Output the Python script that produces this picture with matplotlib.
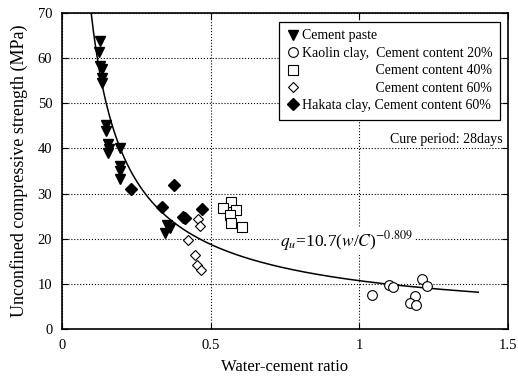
import matplotlib
matplotlib.use("Agg")
import matplotlib.pyplot as plt
import numpy as np

plt.rcParams['font.family'] = ['Liberation Serif', 'DejaVu Serif']
plt.rcParams['mathtext.fontset'] = 'stix'

# cement paste
paste_wc = [0.128, 0.125, 0.128, 0.136, 0.136, 0.136, 0.147, 0.147, 0.156, 0.159,
            0.156, 0.195, 0.195, 0.195, 0.195, 0.352, 0.346, 0.363]
paste_qu = [63.8, 61.3, 58.3, 57.5, 55.5, 54.6, 45.3, 43.8, 40.9, 39.8,
            39.0, 40.0, 36.1, 35.0, 33.3, 23.1, 21.3, 22.4]

# kaolin clay, cement content 20 / 40 / 60 %
k20_wc = [1.044, 1.099, 1.114, 1.211, 1.228, 1.187, 1.170, 1.189]
k20_qu = [7.6, 9.8, 9.4, 11.1, 9.6, 7.2, 5.7, 5.3]
k40_wc = [0.567, 0.542, 0.585, 0.565, 0.570, 0.607]
k40_qu = [28.2, 26.8, 26.3, 25.3, 23.5, 22.6]
k60_wc = [0.458, 0.464, 0.425, 0.447, 0.453, 0.466]
k60_qu = [24.4, 22.9, 19.8, 16.4, 14.1, 13.1]

# hakata clay, cement content 60 %
hak_wc = [0.232, 0.376, 0.335, 0.408, 0.412, 0.470]
hak_qu = [31.0, 32.0, 27.0, 24.9, 24.5, 26.6]

# fitted curve qu = a (w/C)^b
fit_a = 10.7
fit_b = -0.809
fit_range = (0.097, 1.40)

pad = ' ' * 21  # lines up "Cement content" under the kaolin row

fig = plt.figure(figsize=(5.18, 3.76), dpi=100)
ax = fig.add_axes([0.1197, 0.125, 0.861, 0.8404])

wc = np.linspace(fit_range[0], fit_range[1], 300)
ax.plot(wc, fit_a * wc ** fit_b, color='black', lw=1.1, zorder=2)

ax.plot(paste_wc, paste_qu, 'v', color='black', ms=7, ls='none', label='Cement paste', zorder=3)
ax.plot(k20_wc, k20_qu, 'o', mfc='white', mec='black', mew=0.8, ms=7, ls='none',
        label='Kaolin clay,  Cement content 20%', zorder=3)
ax.plot(k40_wc, k40_qu, 's', mfc='white', mec='black', mew=0.8, ms=7.5, ls='none',
        label=pad + 'Cement content 40%', zorder=3)
ax.plot(k60_wc, k60_qu, 'D', mfc='white', mec='black', mew=0.8, ms=4.8, ls='none',
        label=pad + 'Cement content 60%', zorder=3)
ax.plot(hak_wc, hak_qu, 'D', color='black', ms=5.8, ls='none',
        label='Hakata clay, Cement content 60%', zorder=3)

ax.set_xlim(0, 1.5)
ax.set_ylim(0, 70)
ax.set_xticks([0, 0.5, 1, 1.5])
ax.set_xticklabels(['0', '0.5', '1', '1.5'])
ax.set_yticks(range(0, 71, 10))
ax.grid(True, color='black', ls=':', lw=0.8)
ax.tick_params(direction='in', top=True, right=True, labelsize=10.5, length=4, pad=7)
for s in ax.spines.values():
    s.set_linewidth(1.2)

ax.set_xlabel('Water-cement ratio', fontsize=12, labelpad=5)
ax.set_ylabel('Unconfined compressive strength (MPa)', fontsize=13, labelpad=7)

leg = ax.legend(loc='upper right', bbox_to_anchor=(0.982, 0.972), fontsize=10,
                frameon=True, fancybox=False, edgecolor='black', framealpha=1,
                handlelength=0.8, handletextpad=0.25, borderpad=0.55,
                labelspacing=0.32, borderaxespad=0)
leg.get_frame().set_linewidth(0.9)

ax.text(1.483, 42.0, 'Cure period: 28days', ha='right', va='center', fontsize=10,
        bbox=dict(fc='white', ec='none', pad=1))
ax.text(0.733, 19.4, r'$q_u$=10.7($w$/$C$)$^{-0.809}$', ha='left', va='center',
        fontsize=12.5, bbox=dict(fc='white', ec='none', pad=1))

fig.savefig('out.png', dpi=100)
